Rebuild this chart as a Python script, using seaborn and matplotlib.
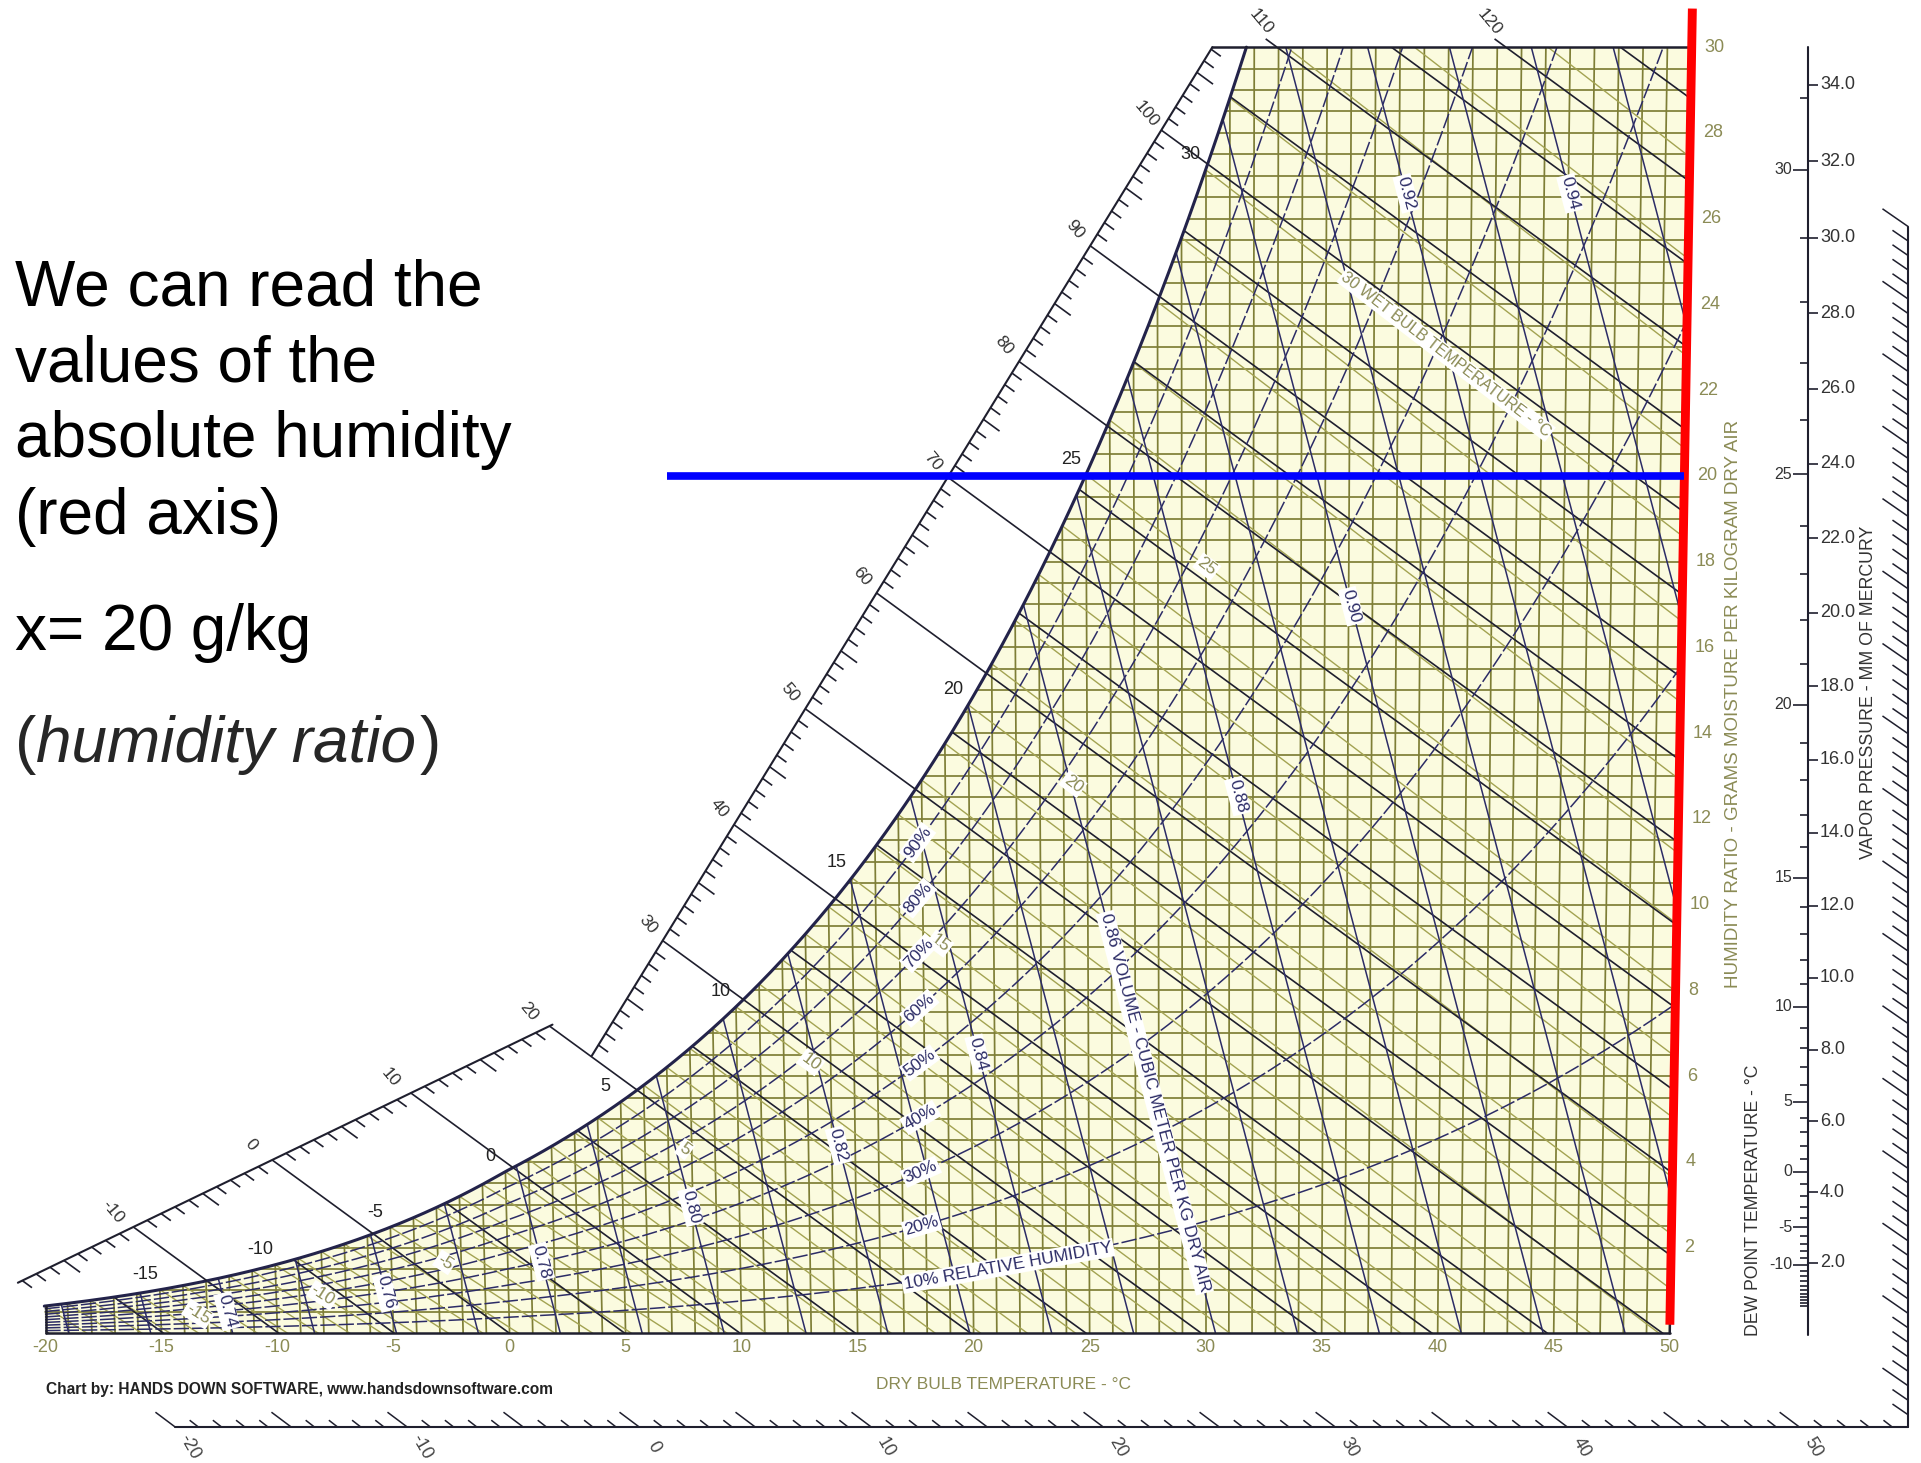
import numpy as np
import pandas as pd
import seaborn as sns
import matplotlib.pyplot as plt
from matplotlib.collections import LineCollection
from matplotlib.patches import Polygon

# ---------------- values ----------------
dry_bulb_ticks = [-20, -15, -10, -5, 0, 5, 10, 15, 20, 25, 30, 35, 40, 45, 50]
humidity_ticks = [2, 4, 6, 8, 10, 12, 14, 16, 18, 20, 22, 24, 26, 28, 30]
saturation_labels = [-15, -10, -5, 0, 5, 10, 15, 20, 25, 30]
rh_levels = [10, 20, 30, 40, 50, 60, 70, 80, 90]
rh_label_text = ["10% RELATIVE HUMIDITY", "20%", "30%", "40%", "50%", "60%", "70%", "80%", "90%"]
rh_label_temp = [21.5, 17.8, 17.8, 17.8, 17.8, 17.8, 17.8, 17.8, 17.8]
volume_labels = [0.74, 0.76, 0.78, 0.80, 0.82, 0.84, 0.86, 0.88, 0.90, 0.92, 0.94]
volume_label_w = [0.52, 0.95, 1.67, 2.95, 4.38, 6.52, 5.38, 12.53, 16.96, 26.59, 26.59]
enthalpy_labels = [-10, 0, 10, 20, 30, 40, 50, 60, 70, 80, 90, 100]
enthalpy_top_labels = [110, 120]
wet_bulb_labels = [-15, -10, -5, 5, 10, 15, 20, 25]
wet_bulb_label_dt = [1.6, 2.0, 2.3, 2.7, 3.15, 3.7, 4.4, 5.05]
vapour_mm_ticks = [2.0, 4.0, 6.0, 8.0, 10.0, 12.0, 14.0, 16.0, 18.0, 20.0,
                   22.0, 24.0, 26.0, 28.0, 30.0, 32.0, 34.0]
dew_point_labels = [-10, -5, 0, 5, 10, 15, 20, 25, 30]
lower_scale_labels = [-20, -10, 0, 10, 20, 30, 40, 50]
read_humidity = 20      # blue line, g/kg
read_temperature = 50   # red axis, deg C

note_lines = ["We can read the", "values of the", "absolute humidity", "(red axis)", "x= 20 g/kg"]

# ---------------- psychrometrics ----------------
P = 101.325
K = 0.00158   # slight fanning of the dry bulb lines


def p_sat(T):
    T = np.asarray(T, float)
    water = 0.61094 * np.exp(17.625 * T / (T + 243.04))
    ice = 0.61115 * np.exp(22.452 * T / (272.55 + T))
    return np.where(T >= 0, water, ice)


def w_from_p(p):
    return 621.945 * p / (P - p)


def w_sat(T):
    return w_from_p(p_sat(T))


def to_x(T, w):
    return T + K * (np.asarray(T, float) - 30) * w


def h_line(h, w):
    T = (h - 2.501 * w) / (1.006 + 0.00186 * w)
    return to_x(T, w)


def wb_line(twb, T):
    ws = w_sat(twb) / 1000
    if twb >= 0:
        w = ((2501 - 2.326 * twb) * ws - 1.006 * (T - twb)) / (2501 + 1.86 * T - 4.186 * twb)
    else:
        w = ((2830 - 0.24 * twb) * ws - 1.006 * (T - twb)) / (2830 + 1.86 * T - 2.1 * twb)
    return w * 1000


def vol_T(v, w):
    return v * P / (0.287042 * (1 + 1.6078 * w / 1000)) - 273.15


Tg = np.linspace(-25, 45, 14001)
h_sat_grid = 1.006 * Tg + w_sat(Tg) / 1000 * (2501 + 1.86 * Tg)


def sat_point_h(h):
    T = np.interp(h, h_sat_grid, Tg)
    w = float(w_sat(T))
    return float(to_x(T, w)), w


# ---------------- figure ----------------
sns.set_theme(style="white")
plt.rcParams['font.family'] = ['Liberation Sans', 'DejaVu Sans']

fig = plt.figure(figsize=(19.21, 14.63), dpi=100)
ax = fig.add_axes([0, 0, 1, 1])
X0, X1, Y0, Y1 = -21.961, 60.830, -3.025, 31.10
ax.set_xlim(X0, X1)
ax.set_ylim(Y0, Y1)
ax.axis('off')
SX = 1921 / (X1 - X0)
SY = 1463 / (Y1 - Y0)

OLIVE = "#7e7e36"
OLIVE_L = "#a3a352"
OLIVE_TXT = "#8b8b55"
DARK = "#1f1f2e"
NAVY = "#2c2c66"
FS = 12.5

# chart region
T_top = float(np.interp(30, w_sat(Tg), Tg))
Ts = np.linspace(-20, T_top, 500)
sat_w = w_sat(Ts)
sat_x = to_x(Ts, sat_w)
wr = np.linspace(0, 30, 60)
poly = np.vstack([[[-20, 0], [50, 0]],
                  np.column_stack([to_x(50, wr), wr]),
                  np.column_stack([sat_x[::-1], sat_w[::-1]]),
                  [[-20, 0]]])
region = Polygon(poly, closed=True, facecolor="#fbfbdf", edgecolor="none", zorder=0)
ax.add_patch(region)


def add_lines(segs, color, lw, z):
    lc = LineCollection(segs, colors=color, linewidths=lw, zorder=z)
    ax.add_collection(lc)
    lc.set_clip_path(region)
    return lc


# olive grid
grid = []
for T in range(-19, 50):
    grid.append([(float(to_x(T, 0)), 0), (float(to_x(T, 31)), 31)])
for w in np.arange(0.5, 30, 0.5):
    grid.append([(-21, w), (52, w)])
add_lines(grid, OLIVE, 1.25, 1)

# wet bulb lines (every 1 C)
wb_segs = []
for twb in range(-20, 37):
    T = np.linspace(twb, 52, 120)
    w = wb_line(twb, T)
    wb_segs.append(np.column_stack([to_x(T, w), w]))
add_lines(wb_segs, OLIVE_L, 1.0, 2)

# enthalpy lines (every 5 kJ/kg)
h_segs = []
for h in range(-20, 131, 5):
    xs, ws = sat_point_h(h)
    w = np.linspace(min(ws, 31.5), -0.5, 60)
    h_segs.append(np.column_stack([h_line(h, w), w]))
add_lines(h_segs, DARK, 1.2, 3)

# specific volume lines (every 0.01 m3/kg)
v_segs = []
for v in np.round(np.arange(0.71, 0.97, 0.01), 2):
    w = np.linspace(0, 31, 40)
    T = vol_T(v, w)
    v_segs.append(np.column_stack([to_x(T, w), w]))
add_lines(v_segs, NAVY, 1.1, 3)

# relative humidity curves via seaborn
rows = []
for rh in rh_levels:
    T = np.linspace(-20, 52, 300)
    w = w_from_p(rh / 100 * p_sat(T))
    rows.append(pd.DataFrame({"x": to_x(T, w), "w": w, "rh": rh}))
rh_df = pd.concat(rows, ignore_index=True)
n0 = len(ax.lines)
sns.lineplot(data=rh_df, x="x", y="w", units="rh", estimator=None, sort=False,
             color=NAVY, lw=1.1, legend=False, ax=ax, zorder=3)
for ln in ax.lines[n0:]:
    ln.set_dashes((10, 2))
    ln.set_clip_path(region)

# saturation curve and borders
sat_df = pd.DataFrame({"x": sat_x, "w": sat_w})
sns.lineplot(data=sat_df, x="x", y="w", sort=False, color="#23234a", lw=2.2, ax=ax, zorder=4)
ax.set_xlim(X0, X1)
ax.set_ylim(Y0, Y1)
ax.axis('off')
ax.plot([-20, 50], [0, 0], color=DARK, lw=1.8, zorder=4)
ax.plot([-20, -20], [0, float(w_sat(-20))], color=DARK, lw=1.8, zorder=4)
ax.plot(to_x(50, wr), wr, color=DARK, lw=1.8, zorder=4)

# ---------------- enthalpy scale ----------------
lower_seg = ((-21.19, 1.18), (1.85, 7.2))
upper_seg = ((3.54, 6.47), (30.29, 30.0))
ax.plot([upper_seg[1][0], float(to_x(50, 30))], [30, 30], color=DARK, lw=1.8, zorder=4)
wgrid = np.linspace(-1, 32, 6601)


def on_segment(h, seg):
    (xa, wa), (xb, wb) = seg
    f = (h_line(h, wgrid) - xa) * (wb - wa) - (wgrid - wa) * (xb - xa)
    idx = np.where(np.sign(f[:-1]) != np.sign(f[1:]))[0]
    if len(idx) == 0:
        return None
    i = idx[0]
    ws = wgrid[i] - f[i] * (wgrid[i + 1] - wgrid[i]) / (f[i + 1] - f[i])
    return float(h_line(h, ws)), float(ws)


def along_h(h, x, w, length):
    x2 = float(h_line(h, w - 0.3))
    dx, dy = (x2 - x) * SX, -0.3 * SY
    n = np.hypot(dx, dy)
    return x + dx / n * length / SX, w + dy / n * length / SY


ticks = []
for seg, hr, off in [(lower_seg, range(-18, 21), (-21, 15)), (upper_seg, range(21, 108), (-15, 16))]:
    ax.plot([seg[0][0], seg[1][0]], [seg[0][1], seg[1][1]], color=DARK, lw=1.5, zorder=4)
    for h in hr:
        p = on_segment(h, seg)
        if p is None:
            continue
        x, w = p
        if h % 10 == 0:
            ticks.append([(x, w), sat_point_h(h)])
            ax.annotate(str(h), (x, w), xytext=off, textcoords="offset pixels", ha="center",
                        va="center", rotation=-50, fontsize=FS, color="#333333", zorder=6)
        else:
            ticks.append([(x, w), along_h(h, x, w, 20 if h % 5 == 0 else 12)])
for h in enthalpy_top_labels:
    x = float(h_line(h, 30))
    xb, wb = along_h(h, x, 30, -14)
    ticks.append([(x, 30), (xb, wb)])
    ax.annotate(str(h), (x, 30), xytext=(-16, 25), textcoords="offset pixels", ha="center",
                va="center", rotation=-50, fontsize=FS, color="#333333", zorder=6)
ax.add_collection(LineCollection(ticks, colors=DARK, linewidths=1.2, zorder=4))


def angle(x1, w1, x2, w2):
    a = np.degrees(np.arctan2((w2 - w1) * SY, (x2 - x1) * SX))
    if a > 90:
        a -= 180
    if a < -90:
        a += 180
    return a


box = dict(boxstyle="square,pad=0.1", fc="white", ec="none")

# saturation temperature labels
for t in saturation_labels:
    w = float(w_sat(t))
    ax.annotate(str(t), (float(to_x(t, w)), w), xytext=(-15, 15), textcoords="offset pixels",
                ha="center", va="center", fontsize=13, color="#222222", zorder=6)

# wet bulb labels
for twb, dt in zip(wet_bulb_labels, wet_bulb_label_dt):
    T = twb + dt
    w1, w2 = wb_line(twb, T - 0.3), wb_line(twb, T + 0.3)
    a = angle(float(to_x(T - 0.3, w1)), w1, float(to_x(T + 0.3, w2)), w2)
    w = wb_line(twb, T)
    ax.text(float(to_x(T, w)), w, str(twb), rotation=a, ha="center", va="center", fontsize=FS,
            color=OLIVE_TXT, zorder=6, rotation_mode="anchor", bbox=box)
T = 40.0
w1, w2 = wb_line(30, T - 0.3), wb_line(30, T + 0.3)
a = angle(float(to_x(T - 0.3, w1)), w1, float(to_x(T + 0.3, w2)), w2)
w = wb_line(30, T)
ax.text(float(to_x(T, w)), w, "30 WET BULB TEMPERATURE - °C", rotation=a, ha="center", va="center",
        fontsize=11.5, color=OLIVE_TXT, zorder=6, rotation_mode="anchor", bbox=box)

# relative humidity labels
for rh, txt, T in zip(rh_levels, rh_label_text, rh_label_temp):
    ws = [float(w_from_p(rh / 100 * p_sat(t))) for t in (T - 0.3, T, T + 0.3)]
    xs = [float(to_x(t, w)) for t, w in zip((T - 0.3, T, T + 0.3), ws)]
    a = angle(xs[0], ws[0], xs[2], ws[2])
    ax.text(xs[1], ws[1], txt, rotation=a, ha="center", va="center", fontsize=FS, color=NAVY,
            zorder=6, rotation_mode="anchor", bbox=box)

# specific volume labels
for v, w in zip(volume_labels, volume_label_w):
    pts = [(float(to_x(vol_T(v, ww), ww)), ww) for ww in (w - 0.3, w, w + 0.3)]
    a = angle(*pts[0], *pts[2])
    txt = f"{v:.2f}"
    if abs(v - 0.86) < 1e-6:
        txt = "0.86 VOLUME - CUBIC METER PER KG DRY AIR"
    ax.text(pts[1][0], pts[1][1], txt, rotation=a, ha="center", va="center", fontsize=FS,
            color=NAVY, zorder=6, rotation_mode="anchor", bbox=box)

# dry bulb and humidity ratio axes
for t in dry_bulb_ticks:
    ax.text(t, -0.33, str(t), ha="center", va="center", fontsize=13, color=OLIVE_TXT)
ax.text(21.3, -1.2, "DRY BULB TEMPERATURE - °C", ha="center", va="center", fontsize=12.5,
        color=OLIVE_TXT)
ax.text(-20.0, -1.32, "Chart by: HANDS DOWN SOFTWARE, www.handsdownsoftware.com", ha="left",
        va="center", fontsize=11.2, fontweight="bold", color="#222222")
for w in humidity_ticks:
    ax.text(float(to_x(50, w)) + 0.55, w, str(w), ha="left", va="center", fontsize=13,
            color=OLIVE_TXT)
ax.text(52.75, 14.67, "HUMIDITY RATIO - GRAMS MOISTURE PER KILOGRAM DRY AIR", rotation=90,
        ha="center", va="center", fontsize=13.5, color=OLIVE_TXT)

# vapour pressure / dew point scale
VX = 55.96
ax.plot([VX, VX], [-0.05, 30.0], color=DARK, lw=1.5)
vp_ticks = []
for mm in vapour_mm_ticks:
    w = float(w_from_p(mm * 0.133322))
    vp_ticks.append([(VX, w), (VX + 10 / SX, w)])
    ax.text(VX + 12 / SX, w, f"{mm:.1f}", ha="left", va="center", fontsize=13, color="#333333")
for td in range(-20, 32):
    w = float(w_sat(td))
    ln = 15 if td in dew_point_labels else 8
    vp_ticks.append([(VX - ln / SX, w), (VX, w)])
    if td in dew_point_labels:
        ax.text(VX - 16 / SX, w, str(td), ha="right", va="center", fontsize=11.5, color="#333333")
ax.add_collection(LineCollection(vp_ticks, colors=DARK, linewidths=1.2))
ax.text(58.56, 14.96, "VAPOR PRESSURE - MM OF MERCURY", rotation=90, ha="center", va="center",
        fontsize=12.8, color="#333333")
ax.text(53.62, 3.10, "DEW POINT TEMPERATURE - °C", rotation=90, ha="center", va="center",
        fontsize=12.7, color="#333333")

# hatched scales at bottom and right
BW, RX = -2.19, 60.29
ax.plot([-14.4, RX], [BW, BW], color=DARK, lw=1.5)
ax.plot([RX, RX], [BW, 25.81], color=DARK, lw=1.5)
hatch = []
for u in range(-20, 55):
    x = u + 5.6
    big = u % 5 == 0
    hatch.append([(x - (20 if big else 9) / SX, BW + (15 if big else 7) / SY), (x, BW)])
    if u in lower_scale_labels:
        ax.text(x + 14 / SX, BW - 20 / SY, str(u), rotation=-60, ha="center", va="center",
                fontsize=13, color="#444444")
i = 0
w = 25.81
while w > BW + 0.2:
    big = i % 5 == 0
    hatch.append([(RX - (26 if big else 16) / SX, w + (18 if big else 11) / SY), (RX, w)])
    w -= 0.338
    i += 1
ax.add_collection(LineCollection(hatch, colors=DARK, linewidths=1.1))

# highlighted reading
wl = np.array([0.2, 30.9])
ax.plot(to_x(read_temperature, wl), wl, color="#ff0000", lw=6.4, solid_capstyle="butt", zorder=8)
ax.plot([6.8, float(to_x(read_temperature, read_humidity))], [read_humidity, read_humidity],
        color="#0000ff", lw=5.5, solid_capstyle="butt", zorder=8)

# explanatory text
baselines = [305, 381, 457, 534, 650]
for s, yb in zip(note_lines, baselines):
    fig.text(15 / 1921, 1 - yb / 1463, s, fontsize=46, ha="left", va="baseline", color="black")
renderer = fig.canvas.get_renderer()
yb = 1 - 762 / 1463
t1 = fig.text(15 / 1921, yb, "(", fontsize=46, ha="left", va="baseline")
x1 = t1.get_window_extent(renderer).x1
t2 = fig.text(x1 / 1921, yb, "humidity ratio", fontsize=46, style="italic", ha="left", va="baseline")
x2 = t2.get_window_extent(renderer).x1
fig.text(x2 / 1921 + 0.002, yb, ")", fontsize=46, ha="left", va="baseline")

fig.savefig("out.png", dpi=100)
